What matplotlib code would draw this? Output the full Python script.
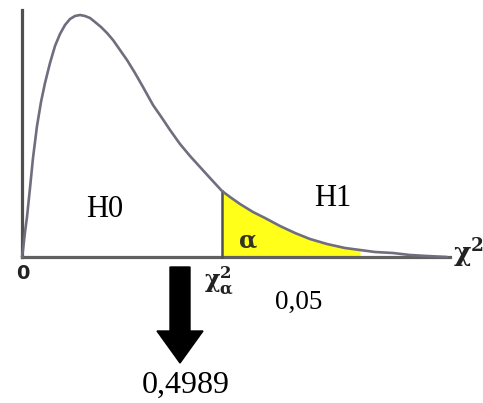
import numpy as np
import matplotlib
matplotlib.use('Agg')
import matplotlib.pyplot as plt

plt.rcParams['mathtext.fontset'] = 'dejavuserif'

# chi-square curve (pixel coords, y grows downward)
curve_x = [22, 23, 25, 27, 30, 33, 37, 41, 45, 50, 55, 60, 65, 70, 75, 80, 85, 90, 95,
           101, 107, 113, 120, 127, 135, 143, 153, 162, 170, 180, 190, 200, 210, 222,
           230, 240, 253, 265, 280, 295, 310, 327, 345, 360, 375, 393, 410, 427, 447]
curve_y = [257, 250, 232, 217, 188, 158, 126, 102, 83, 63, 46, 34, 25, 19, 16, 15, 16, 18, 22,
           27, 33, 40, 50, 60, 73, 87, 105, 118, 130, 144, 156, 167, 178, 191,
           197, 204, 212, 218, 226, 233, 239, 244, 248, 250, 252, 253, 255, 256, 257]

origin = (22, 257)      # where the two axes meet
x_axis_end = 450
y_axis_top = 10
crit_x = 222            # chi^2_alpha
fill_end = 360          # yellow stops here

alpha_txt = '0,05'
result_txt = '0,4989'

fig = plt.figure(figsize=(4.83, 4.03), dpi=100)
ax = fig.add_axes([0, 0, 1, 1])
ax.set_xlim(0, 483)
ax.set_ylim(403, 0)
ax.axis('off')

cx = np.array(curve_x)
cy = np.array(curve_y)

# rejection region
m = (cx >= crit_x) & (cx <= fill_end)
ax.fill_between(cx[m], cy[m], origin[1], color='#ffff1a', lw=0, zorder=1)

ax.plot([origin[0], origin[0]], [y_axis_top, origin[1]], color='#505050', lw=2.3, zorder=3)
ax.plot([origin[0], x_axis_end], [origin[1], origin[1]], color='#606060', lw=2.3, zorder=3)
ax.plot(cx, cy, color='#6e6e7e', lw=1.9, zorder=4, solid_capstyle='round', solid_joinstyle='round')
ax.plot([crit_x, crit_x], [cy[cx == crit_x][0], origin[1]], color='#505050', lw=1.8, zorder=3)

serif = 'Liberation Serif'
ax.text(105, 217, 'H0', family=serif, fontsize=22, ha='center', va='baseline')
ax.text(333, 206, 'H1', family=serif, fontsize=22, ha='center', va='baseline')
ax.text(248, 240, 'α', family='DejaVu Serif', fontweight='bold', fontsize=17,
        ha='center', va='center', color='#333322')
ax.text(23, 279, '0', family='DejaVu Sans', fontweight='bold', fontsize=14,
        ha='center', va='baseline', color='#222222')
ax.text(219, 281, r'$\mathbf{\chi}^{\mathbf{2}}_{\mathbf{\alpha}}$', fontsize=17,
        ha='center', va='center', color='#222222')
ax.text(468, 253, r'$\mathbf{\chi}^{\mathbf{2}}$', fontsize=19, ha='center', va='center',
        color='#222222')
ax.text(299, 309, alpha_txt, family=serif, fontsize=19.5, ha='center', va='baseline')
ax.text(186, 393, result_txt, family=serif, fontsize=23, ha='center', va='baseline')

# big downward arrow
ax.arrow(180, 267, 0, 96, width=20, head_width=46, head_length=32,
         length_includes_head=True, color='black', zorder=5)

fig.savefig('out.png', dpi=100)
